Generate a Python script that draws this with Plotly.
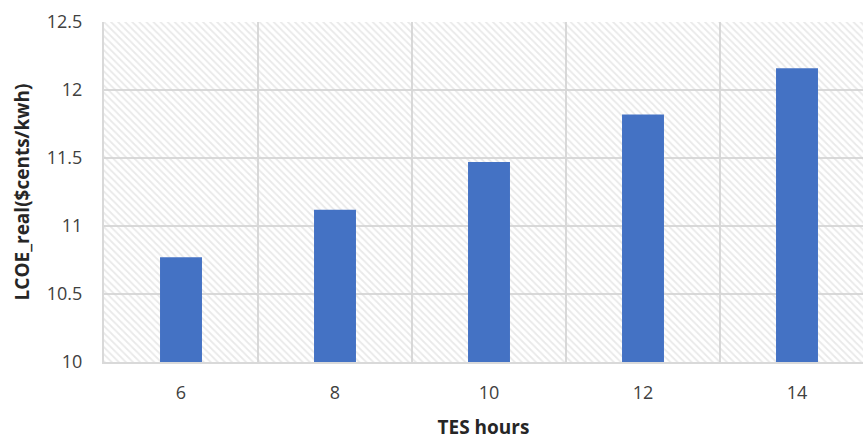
import plotly.graph_objects as go

# TES storage hours and the resulting real levelized cost of energy
tes_hours = [6, 8, 10, 12, 14]
lcoe_real = [10.77, 11.12, 11.47, 11.82, 12.16]
x_tick_labels = ["6", "8", "10", "12", "14"]

y_min, y_max = 10, 12.5
x_lo, x_hi = 5, 15

bar_color = "#4472C4"
grid_color = "#d9d9d9"
font_family = "Open Sans, Lato, sans-serif"

fig = go.Figure()

# Hatched plot-area background, drawn as one wide bar underneath the data bars
fig.add_trace(go.Bar(
    x=[(x_lo + x_hi) / 2],
    y=[y_max - y_min],
    base=[y_min],
    width=[x_hi - x_lo],
    marker=dict(
        color="rgba(0,0,0,0)",
        line=dict(width=0),
        pattern=dict(shape="\\", fgcolor="#d4d4d4", bgcolor="rgba(0,0,0,0)",
                     size=5, solidity=0.35),
    ),
    hoverinfo="skip",
    showlegend=False,
))

fig.add_trace(go.Bar(
    x=tes_hours,
    y=lcoe_real,
    width=0.545,
    marker=dict(color=bar_color, line=dict(width=0)),
    showlegend=False,
))

fig.update_layout(
    width=863,
    height=440,
    margin=dict(l=104, r=0, t=22, b=78),
    paper_bgcolor="white",
    plot_bgcolor="white",
    font=dict(family=font_family, color="#404040"),
    barmode="overlay",
)

fig.update_xaxes(
    type="linear",
    range=[x_lo, x_lo + 759 / 77],
    tickvals=tes_hours,
    ticktext=x_tick_labels,
    tickfont=dict(size=18, color="#404040"),
    ticks="",
    ticklabelstandoff=13,
    showgrid=False,
    zeroline=False,
    showline=True,
    linecolor=grid_color,
    linewidth=2,
    minor=dict(tickvals=[5, 7, 9, 11, 13, 15], showgrid=True,
               gridcolor=grid_color, gridwidth=2, ticks=""),
    title=dict(text="<b>TES hours</b>", font=dict(size=19, color="#262626"),
               standoff=22),
)

fig.update_yaxes(
    range=[y_min, y_max],
    dtick=0.5,
    tick0=10,
    tickfont=dict(size=18, color="#404040"),
    ticks="",
    ticklabelstandoff=16,
    showgrid=True,
    gridcolor=grid_color,
    gridwidth=2,
    zeroline=False,
    showline=True,
    linecolor=grid_color,
    linewidth=2,
    title=dict(text="<b>LCOE_real($cents/kwh)</b>", font=dict(size=19, color="#262626"),
               standoff=12),
)

fig.write_html("out.html")
